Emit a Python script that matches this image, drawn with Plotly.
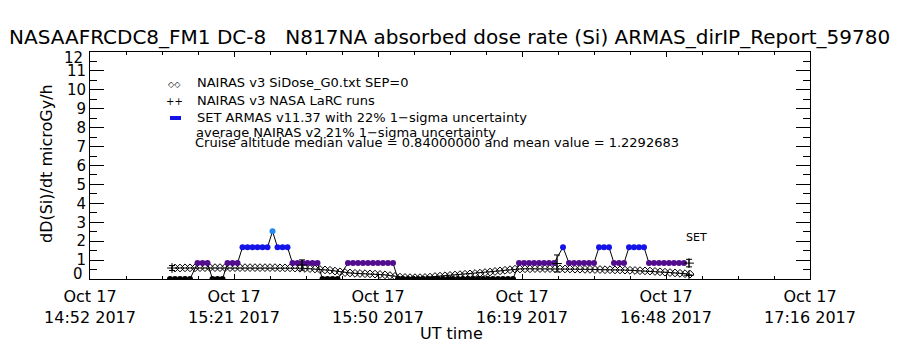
import plotly.graph_objects as go
import pandas as pd

DAY = "2017-10-17 "
x_range = ["14:52:00", "17:16:00"]
tick_step_min = 28.8
tick_labels = ["Oct 17<br>14:52 2017", "Oct 17<br>15:21 2017", "Oct 17<br>15:50 2017",
               "Oct 17<br>16:19 2017", "Oct 17<br>16:48 2017", "Oct 17<br>17:16 2017"]
y_tick_values = list(range(0, 13))
y_tick_labels = [str(v) for v in y_tick_values]

# NAIRAS v3 SiDose_G0 (SEP=0), 1-minute cadence starting at 15:09
nairas_start = "15:09:00"
nairas_g0 = [0.58, 0.58, 0.59, 0.59, 0.59, 0.60, 0.60, 0.60, 0.60, 0.60, 0.60, 0.60, 0.60,
             0.60, 0.60, 0.60, 0.60, 0.60, 0.60, 0.60, 0.60, 0.59, 0.59, 0.59, 0.58,
             0.57, 0.56, 0.55, 0.53, 0.50,
             0.48, 0.46, 0.42, 0.38,
             0.34, 0.32, 0.30, 0.29, 0.28, 0.27, 0.26, 0.24, 0.22, 0.18,
             0.14, 0.10, 0.08, 0.07, 0.07, 0.07, 0.08, 0.10,
             0.13, 0.15, 0.17, 0.19, 0.21, 0.23, 0.25, 0.27, 0.29, 0.31, 0.34, 0.37, 0.40,
             0.43, 0.46, 0.49, 0.52,
             0.53, 0.54, 0.54, 0.55, 0.55, 0.55, 0.55, 0.54, 0.54, 0.53, 0.53, 0.52, 0.52,
             0.51, 0.51, 0.50, 0.50, 0.49, 0.49, 0.48, 0.48,
             0.47, 0.46, 0.45, 0.44, 0.43, 0.42, 0.40, 0.38, 0.36, 0.34, 0.32, 0.30, 0.28, 0.26]

# SET ARMAS v11.37 dose rate
armas_times = ["15:08:00", "15:09:00", "15:10:00", "15:11:00", "15:12:00",
               "15:13:30", "15:14:30", "15:15:30",
               "15:16:30", "15:17:30", "15:18:30",
               "15:19:30", "15:20:30", "15:21:30",
               "15:22:30", "15:23:30", "15:24:30", "15:25:30", "15:26:30", "15:27:30",
               "15:28:30",
               "15:29:30", "15:30:30", "15:31:30",
               "15:32:30", "15:33:30", "15:34:30", "15:35:30", "15:36:30", "15:37:30",
               "15:38:30", "15:39:30", "15:40:30", "15:41:30",
               "15:43:36", "15:44:36", "15:45:36", "15:46:36", "15:47:36", "15:48:36",
               "15:49:36", "15:50:36", "15:51:36", "15:52:36",
               "15:53:36", "15:54:36", "15:55:36", "15:56:36", "15:57:36", "15:58:36",
               "15:59:36", "16:00:36", "16:01:36", "16:02:36", "16:03:36", "16:04:36",
               "16:05:36", "16:06:36", "16:07:36", "16:08:36", "16:09:36", "16:10:36",
               "16:11:36", "16:12:36", "16:13:36", "16:14:36", "16:15:36", "16:16:36",
               "16:17:48", "16:18:48", "16:19:48", "16:20:48", "16:21:48", "16:22:48",
               "16:23:48", "16:24:48",
               "16:26:36",
               "16:27:48", "16:28:48", "16:29:48", "16:30:48", "16:31:48", "16:32:48",
               "16:33:48", "16:34:48", "16:35:48",
               "16:36:48", "16:37:48", "16:38:48",
               "16:39:48", "16:40:48", "16:41:48", "16:42:48",
               "16:43:48", "16:44:48", "16:45:48", "16:46:48", "16:47:48", "16:48:48",
               "16:49:48", "16:50:48"]
armas_dose = [0, 0, 0, 0, 0,
              0.84, 0.84, 0.84,
              0, 0, 0,
              0.84, 0.84, 0.84,
              1.68, 1.68, 1.68, 1.68, 1.68, 1.68,
              2.52,
              1.68, 1.68, 1.68,
              0.84, 0.84, 0.84, 0.84, 0.84, 0.84,
              0, 0, 0, 0,
              0.84, 0.84, 0.84, 0.84, 0.84, 0.84, 0.84, 0.84, 0.84, 0.84,
              0, 0, 0, 0, 0, 0, 0, 0, 0, 0, 0, 0,
              0, 0, 0, 0, 0, 0, 0, 0, 0, 0, 0, 0,
              0.84, 0.84, 0.84, 0.84, 0.84, 0.84, 0.84, 0.84,
              1.68,
              0.84, 0.84, 0.84, 0.84, 0.84, 0.84,
              1.68, 1.68, 1.68,
              0.84, 0.84, 0.84,
              1.68, 1.68, 1.68, 1.68,
              0.84, 0.84, 0.84, 0.84, 0.84, 0.84, 0.84, 0.84]

# NAIRAS v3 NASA LaRC runs (with 1-sigma bars)
larc_times = ["15:08:24", "15:34:24", "16:25:24", "16:51:48", "16:51:48"]
larc_dose = [0.58, 0.74, 0.82, 0.84, 0.20]
larc_err = [0.13, 0.27, 0.45, 0.20, 0.0]

PURPLE = "#520C8E"
BLUE = "#1414E8"
LIGHTBLUE = "#2288F2"


def armas_color(v):
    if v < 0.05:
        return "black"
    if v < 1.2:
        return PURPLE
    if v < 2.0:
        return BLUE
    return LIGHTBLUE


def ts(t):
    return pd.Timestamp(DAY + t)


nairas_x = pd.date_range(ts(nairas_start), periods=len(nairas_g0), freq="1min")
armas_x = [ts(t) for t in armas_times]
larc_x = [ts(t) for t in larc_times]

x0 = ts(x_range[0])
x1 = ts(x_range[1])
tickvals = [x0 + pd.Timedelta(minutes=tick_step_min * k) for k in range(len(tick_labels))]

FONT = "DejaVu Sans"

fig = go.Figure()

fig.add_trace(go.Scatter(
    x=nairas_x, y=nairas_g0, mode="lines+markers",
    line=dict(color="black", width=1),
    marker=dict(symbol="diamond-open", size=6, color="black", line=dict(width=1, color="black")),
    name="NAIRAS v3 SiDose_G0.txt SEP=0"))

fig.add_trace(go.Scatter(
    x=armas_x, y=armas_dose, mode="lines+markers",
    line=dict(color="black", width=1),
    marker=dict(symbol="circle", size=6, color=[armas_color(v) for v in armas_dose],
                line=dict(width=0)),
    name="SET ARMAS"))

fig.add_trace(go.Scatter(
    x=larc_x, y=larc_dose, mode="markers",
    marker=dict(symbol="cross-thin", size=7, color="black", line=dict(width=1, color="black")),
    error_y=dict(type="data", array=larc_err, visible=True, color="black", thickness=1, width=3),
    name="NAIRAS v3 NASA LaRC runs"))

# paper coordinates helpers for pixel placement
L, R, T, B = 90, 810, 52, 279


def px(xp):
    return (xp - L) / (R - L)


def py(yp):
    return (B - yp) / (B - T)


ann = []
ann.append(dict(text="NASAAFRCDC8_FM1 DC-8\u00a0\u00a0\u00a0N817NA absorbed dose rate (Si) ARMAS_dirIP_Report_59780",
                x=px(449), y=py(37), xref="paper", yref="paper", showarrow=False,
                xanchor="center", yanchor="middle", font=dict(size=20, family=FONT, color="black")))
ann.append(dict(text="dD(Si)/dt microGy/h", x=px(46), y=py(164), xref="paper", yref="paper",
                showarrow=False, textangle=-90, xanchor="center", yanchor="middle",
                font=dict(size=16, family=FONT, color="black")))
ann.append(dict(text="UT time", x=px(451), y=py(333), xref="paper", yref="paper",
                showarrow=False, xanchor="center", yanchor="middle",
                font=dict(size=16, family=FONT, color="black")))
ann.append(dict(text="SET", x=px(684), y=py(237), xref="paper", yref="paper",
                showarrow=False, xanchor="left", yanchor="middle",
                font=dict(size=11, family=FONT, color="black")))
# end labels of the y axis sit inside the axis span, as in the original
ann.append(dict(text=y_tick_labels[-1], x=px(85), y=py(58), xref="paper", yref="paper",
                showarrow=False, xanchor="right", yanchor="middle",
                font=dict(size=15, family=FONT, color="black")))
ann.append(dict(text=y_tick_labels[0], x=px(85), y=py(274), xref="paper", yref="paper",
                showarrow=False, xanchor="right", yanchor="middle",
                font=dict(size=15, family=FONT, color="black")))

legend_lines = [("NAIRAS v3 SiDose_G0.txt SEP=0", 195, 83),
                ("NAIRAS v3 NASA LaRC runs", 195, 100),
                ("SET ARMAS v11.37 with 22% 1\u2212sigma uncertainty", 195, 117),
                ("average NAIRAS v2 21% 1\u2212sigma uncertainty", 194, 132),
                ("Cruise altitude median value = 0.84000000 and mean value = 1.2292683", 193, 142)]
for txt, xx, yy in legend_lines:
    ann.append(dict(text=txt, x=px(xx), y=py(yy), xref="paper", yref="paper", showarrow=False,
                    xanchor="left", yanchor="middle", font=dict(size=13, family=FONT, color="black")))
ann.append(dict(text="\u25c7\u25c7", x=px(174), y=py(84), xref="paper", yref="paper", showarrow=False,
                xanchor="center", yanchor="middle", font=dict(size=8, family=FONT, color="black")))
ann.append(dict(text="++", x=px(174), y=py(101), xref="paper", yref="paper", showarrow=False,
                xanchor="center", yanchor="middle", font=dict(size=10, family=FONT, color="black")))

shapes = [dict(type="rect", xref="paper", yref="paper", x0=px(170), x1=px(181), y0=py(120), y1=py(116),
               fillcolor=BLUE, line=dict(width=0))]

fig.update_layout(
    width=900, height=350,
    margin=dict(l=L, r=900 - R, t=T, b=350 - B),
    paper_bgcolor="white", plot_bgcolor="white",
    showlegend=False,
    font=dict(family=FONT, size=16, color="black"),
    annotations=ann, shapes=shapes,
)

fig.update_xaxes(
    type="date", range=[x0, x1],
    tickmode="array", tickvals=tickvals, ticktext=tick_labels,
    ticks="inside", ticklen=5, tickcolor="black", tickwidth=1,
    minor=dict(ticks="inside", ticklen=3, tickcolor="black", tick0=x0, dtick=tick_step_min / 4 * 60000),
    showline=True, linecolor="black", linewidth=1, mirror="ticks",
    showgrid=False, zeroline=False, ticklabelstandoff=3,
    tickfont=dict(size=16, family=FONT, color="black"),
)
fig.update_yaxes(
    range=[0, 12], tickmode="array", tickvals=y_tick_values,
    ticktext=[""] + y_tick_labels[1:-1] + [""],
    ticks="inside", ticklen=14, tickcolor="black", tickwidth=1,
    minor=dict(ticks="inside", ticklen=7, tickcolor="black", dtick=0.5),
    showline=True, linecolor="black", linewidth=1, mirror="ticks",
    showgrid=False, zeroline=False,
    tickfont=dict(size=15, family=FONT, color="black"),
)

fig.write_html("out.html")
